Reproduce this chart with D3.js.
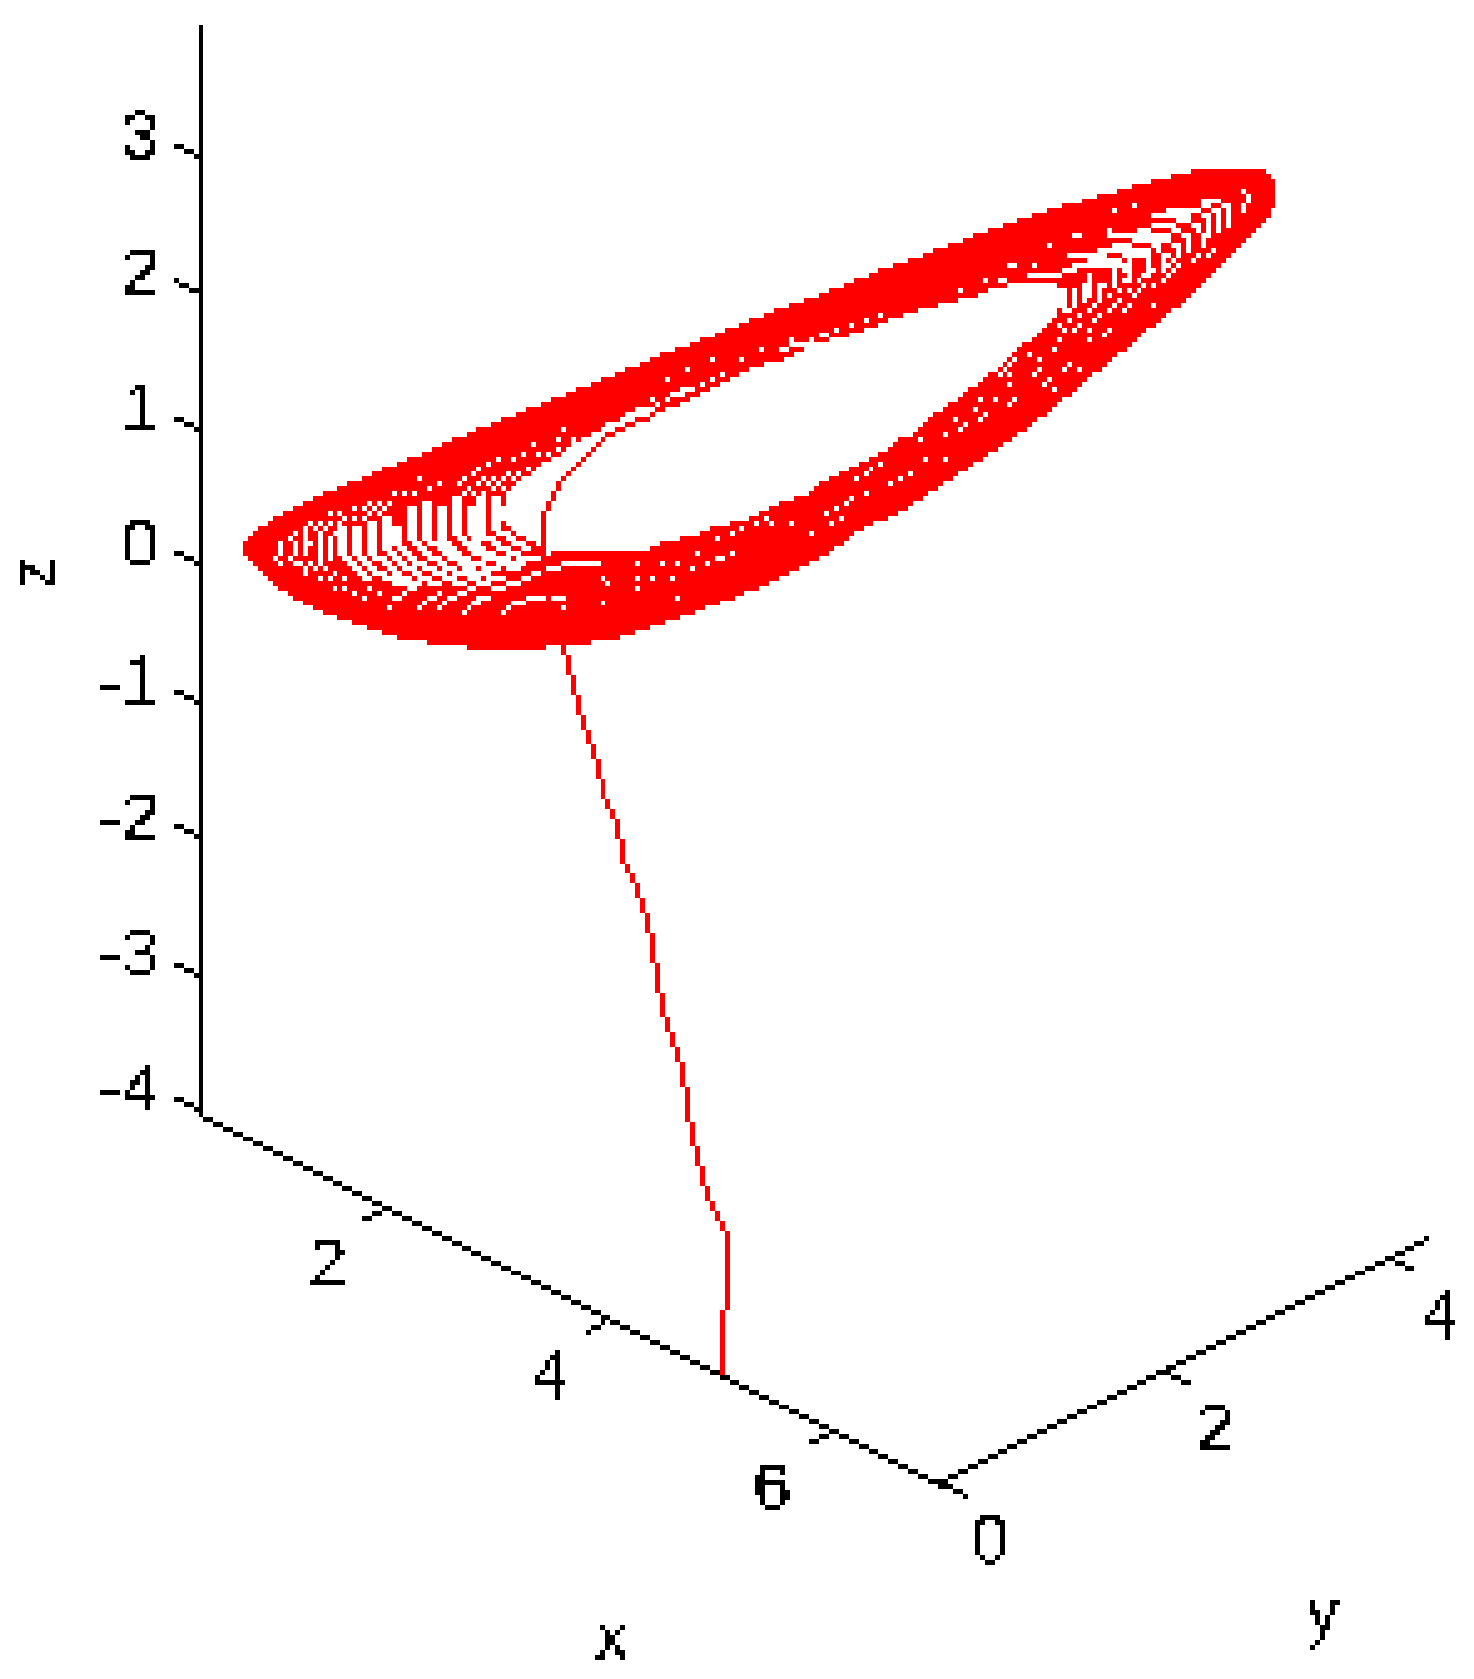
<!DOCTYPE html>
<html>
<head>
<meta charset="utf-8">
<style>
  html, body { margin: 0; padding: 0; background: #fff; }
  svg { display: block; }
  text { font-family: "Liberation Sans", sans-serif; font-size: 68px; fill: #000; }
</style>
<script src="https://cdn.jsdelivr.net/npm/d3@7"></script>
</head>
<body>
<svg id="chart" width="1474" height="1679"></svg>
<script>
var xTicks = [2, 4, 6];
var yTicks = [0, 2, 4];
var zTicks = [-4, -3, -2, -1, 0, 1, 2, 3];

// axis extents
var xLimits = [0.315, 6.99];
var yLimits = [0, 4.33];
var zLimits = [-4, 3.955];

// every curve below is read as [x, z]: x straight down on the x ticks, z straight across on the z ticks
var tail = [[3.595,-0.607],[3.613,-0.761],[3.712,-1.04],[3.793,-1.275],[3.883,-1.473],[3.955,-1.708],[4.063,-1.863],[4.135,-2.142],
  [4.243,-2.377],[4.342,-2.612],[4.387,-2.81],[4.423,-3.045],[4.495,-3.28],[4.559,-3.479],[4.631,-3.714],[4.694,-3.949],
  [4.757,-4.22],[4.82,-4.456],[4.874,-4.654],[5.018,-4.852],[5.054,-4.933],[5.054,-5.403],[5.018,-5.484],[5.018,-5.939]];

// outside edge of the band
var outerEdge = [[.697,.138],[.787,.248],[.922,.321],[1.102,.395],[1.282,.468],[1.462,.542],[1.688,.615],[1.898,.688],[2.123,.762],
  [2.348,.835],[2.529,.909],[2.754,.982],[2.979,1.056],[4.09,1.415],[4.495,1.557],[4.856,1.668],[5.3,1.815],[5.525,1.888],[5.793,1.962],
  [6.012,2.03],[6.237,2.104],[6.462,2.177],[6.733,2.25],[6.958,2.324],[7.228,2.397],[7.333,2.439],[7.453,2.471],[7.708,2.542],[7.979,2.615],
  [8.294,2.689],[8.609,2.762],[8.925,2.836],[9.105,2.872],[9.33,2.909],[9.901,2.909],[9.991,2.836],[9.991,2.659],[9.901,2.512],[9.72,2.365],
  [9.54,2.218],[9.33,2.072],[9.15,1.925],[8.925,1.778],[8.654,1.594],[8.429,1.447],[8.159,1.264],[7.979,1.146],[7.718,.982],[7.447,.835],
  [7.177,.688],[6.913,.541],[6.643,.394],[6.417,.321],[6.237,.247],[6.057,.137],[5.742,-.01],[5.381,-.157],[5.081,-.25],[4.27,-.487],
  [4,-.548],[3.73,-.575],[3.324,-.615],[2.799,-.615],[2.393,-.575],[2.168,-.548],[1.853,-.475],[1.583,-.401],[1.357,-.328],[1.177,-.254],
  [1.042,-.181],[.922,-.107],[.817,-.022],[.697,.076]];

// the hole in the middle of the band
var innerEdge = [[3.459,.101],[4.315,.101],[4.495,.174],[4.676,.211],[4.856,.247],[4.946,.284],[5.171,.321],[5.396,.394],[5.576,.468],
  [5.832,.541],[5.922,.615],[6.192,.725],[6.462,.835],[6.553,.909],[6.778,.982],[6.823,1.056],[7.093,1.202],[7.273,1.313],[7.498,1.447],
  [7.634,1.557],[7.859,1.704],[7.934,1.778],[8.024,1.851],[8.069,1.9],[8.069,2.035],[7.979,2.072],[7.588,2.072],[7.573,2.035],[7.393,2.035],
  [7.393,1.998],[7.177,1.961],[7.048,1.925],[6.823,1.888],[6.688,1.851],[6.553,1.815],[6.327,1.741],[6.057,1.668],[5.832,1.631],[5.613,1.521],
  [5.297,1.447],[5.12,1.374],[4.94,1.3],[4.763,1.227],[4.54,1.153],[4.27,1.117],[4,1.044],[3.82,.97],[3.685,.909],[3.55,.811],[3.384,.762],
  [3.294,.664],[3.159,.615],[3.069,.505],[3.024,.358],[3.069,.321],[3.204,.211],[3.294,.174],[3.414,.137]];

// thin strand crossing the hole
var strand = [[3.399,.101],[3.399,.346],[3.444,.456],[3.49,.542],[3.535,.603],[3.625,.676],[3.715,.75],[3.805,.823],[3.895,.897],
  [3.985,.946],[4.075,.995],[4.165,1.044],[4.315,1.08],[4.405,1.117]];

// white stripes between the turns, left end of the band
var leftStripes = [
  [[1.583,.26],[1.583,.101],[1.673,.015],[1.808,-.083]],
  [[1.718,.284],[1.718,.076],[1.823,-.009],[1.958,-.083],[2.108,-.132]],
  [[1.853,.321],[1.853,.089],[1.958,.015],[2.078,-.058],[2.258,-.132]],
  [[1.973,.358],[1.973,.113],[2.078,.052],[2.228,-.046],[2.438,-.132]],
  [[2.078,.284],[2.078,.15],[2.168,.089],[2.318,-.009],[2.529,-.095],[2.619,-.132]],
  [[2.213,.407],[2.213,.186],[2.318,.101],[2.453,.027],[2.649,-.071],[2.859,-.132]],
  [[2.348,.468],[2.348,.186],[2.453,.113],[2.619,.027],[2.799,-.046],[2.979,-.095]],
  [[2.483,.431],[2.483,.186],[2.588,.101],[2.754,.027],[2.949,-.034]],
  [[2.588,.505],[2.588,.223],[2.708,.137],[2.889,.039],[3.129,-.022]],
  [[2.708,.407],[2.708,.248],[2.829,.137],[3.009,.064],[3.189,.027]],
  [[2.829,.493],[2.829,.248],[2.934,.162],[3.099,.089],[3.249,.064]],
  [[2.949,.48],[2.949,.284],[3.069,.186],[3.219,.113]]
];

// white stripes, right end of the band
var rightStripes = [
  [[9.015,2.598],[9.195,2.598],[9.375,2.635],[9.48,2.598],[9.48,2.476]],
  [[9.33,2.671],[9.45,2.671],[9.57,2.635],[9.57,2.512]],
  [[8.88,2.561],[9.135,2.561],[9.315,2.598],[9.405,2.561],[9.405,2.439]],
  [[8.744,2.463],[8.925,2.5],[9.195,2.525],[9.285,2.488],[9.33,2.365]],
  [[8.519,2.414],[8.744,2.414],[8.925,2.439],[9.105,2.476],[9.21,2.439],[9.21,2.329]],
  [[8.429,2.316],[8.624,2.353],[8.774,2.39],[8.985,2.402],[9.105,2.365],[9.135,2.267]],
  [[8.12,2.272],[8.414,2.272],[8.564,2.316],[8.744,2.316],[8.925,2.341],[8.97,2.218]],
  [[8.204,2.206],[8.384,2.243],[8.534,2.243],[8.684,2.28],[8.835,2.292],[8.865,2.133]],
  [[7.798,2.125],[7.979,2.125],[8.144,2.165],[8.294,2.206],[8.489,2.206],[8.624,2.206],[8.654,2.096]],
  [[8.099,2.023],[8.099,1.9]],
  [[8.189,2.023],[8.189,1.925]],
  [[8.264,2.072],[8.264,1.949]],
  [[8.339,2.145],[8.339,1.974]],
  [[8.414,2.072],[8.414,1.998]],
  [[8.534,2.243],[8.534,2.072]],
  [[8.684,2.292],[8.684,2.084]]
];

// short one-pixel white dashes
var dashes = [
  [[1.027,.174],[1.027,.076]],[[1.162,.174],[1.162,.076]],[[1.252,.199],[1.252,.088]],[[1.387,.199],[1.387,.04]],[[1.478,.199],[1.478,.04]],
  [[3.565,.01],[3.91,.01]],[[3.429,-.027],[3.549,-.027]],[[3.249,.047],[3.369,.047]],[[3.069,-.027],[3.189,-.027]],
  [[3.294,-.063],[3.369,-.063]],[[3.204,-.1],[3.279,-.1]],[[3.069,-.137],[3.189,-.137]],[[2.934,-.173],[3.054,-.173]],
  [[2.799,-.247],[2.889,-.247]],[[3.249,-.247],[3.414,-.247]],[[3.474,-.247],[3.594,-.247]],[[3.114,-.284],[3.234,-.284]],
  [[2.679,-.352],[2.769,-.279],[2.889,-.242]],[[3.039,-.352],[3.114,-.279]],[[2.273,-.315],[2.378,-.242],[2.468,-.205]],
  [[2.453,-.315],[2.558,-.242],[2.649,-.205],[2.769,-.169]],[[2.048,-.242],[2.138,-.193],[2.288,-.132]],
  [[8.174,2.414],[8.249,2.414]],[[7.618,2.199],[7.663,2.199]],[[7.498,2.089],[7.573,2.089]],[[9.735,2.72],[9.735,2.659]],[[9.705,2.647],[9.705,2.586]],
  [[5.883,1.687],[5.967,1.687]],[[5.658,1.614],[5.748,1.614]],[[5.525,1.577],[5.613,1.577]],[[4.631,1.288],[4.763,1.288]],[[4.585,1.251],[4.661,1.251]],
  [[4.27,1.141],[4.405,1.141]],[[4.18,1.105],[4.27,1.105]],[[4.946,.047],[5.027,.047]]
];

// single white pixels
var specksLeft = [[1.703,.412],[1.793,.412],[1.838,.449],[1.928,.449],[2.018,.449],[1.883,.412],[1.973,.412],[1.838,.375],[1.928,.375],[1.478,.375],
  [1.568,.375],[1.703,.338],[1.613,.338],[1.793,.338],[1.297,.302],[1.387,.302],[1.478,.302],[1.252,.265],[1.342,.265],[1.432,.265],[1.568,.302],
  [1.162,.228],[1.117,.191],[1.252,.228],[1.387,.228],[1.297,.155],[1.522,.228],[2.063,.522],[2.153,.522],[2.243,.522],[2.378,.559],[2.288,.632],
  [2.462,.595],[2.679,.632],[2.769,.669],[2.814,.706],[2.904,.742],[2.994,.779],[3.129,.779],[3.219,.816],[3.309,.889],[3.354,.816],[3.444,.816],
  [3.534,.852],[3.534,.926],[3.67,.926],[3.579,.999],[3.264,.706],[3.084,.669],[3.174,.669],[2.859,.632],[2.949,.632],[3.039,.632],[2.814,.595],
  [2.904,.595],[2.994,.595],[3.129,.632],[2.634,.595],[2.724,.559],[2.679,.522],[2.769,.522],[2.859,.522],[2.949,.559],[3.039,.559],[.982,.052],
  [1.027,.01],[1.117,.052],[1.162,.01],[1.207,.01],[1.252,-.027],[1.297,.01],[1.387,.01],[1.342,-.027],[1.432,-.027],[1.252,-.063],[1.387,-.1],
  [1.478,-.1],[1.522,-.063],[1.613,-.1],[1.522,-.173],[1.613,-.173],[1.703,-.21],[1.784,-.247],[1.832,-.173],[1.922,-.21],[2.012,-.32],[2.282,-.32],
  [2.462,-.32],[3.579,-.32],[3.934,-.284],[3.934,-.1],[3.979,-.137],[3.444,.084]];

var specksRight = [[8.534,2.598],[8.714,2.635],[8.489,2.451],[7.958,2.341],[7.822,2.199],[7.378,2.089],[9.705,2.745],[9.435,2.309],[9.39,2.272],[9.3,2.272],
  [9.255,2.236],[9.03,2.272],[9.12,2.272],[9.075,2.236],[9.03,2.199],[9.12,2.199],[9.075,2.162],[8.985,2.162],[9.03,2.125],[8.985,2.089],[8.895,2.052],
  [8.895,1.905],[8.895,2.162],[8.85,2.125],[8.804,2.125],[8.759,2.089],[8.804,2.052],[8.624,2.089],[8.534,2.052],[8.444,2.052],[8.489,1.978],[8.579,2.015],
  [8.669,2.015],[8.759,2.015],[8.714,1.978],[8.669,1.905],[8.534,1.905],[8.489,1.868],[8.579,1.942],[8.624,1.868],[8.354,1.905],[8.399,1.942],[8.309,1.868],
  [8.405,1.832],[8.363,1.795],[8.135,1.868],[8.09,1.868],[8.225,1.832],[8.135,1.795],[8.045,1.758],[8.225,1.758],[8.09,1.721],[8.18,1.721],[8.315,1.721],
  [8.495,1.721],[8.45,1.685],[8.315,1.648],[8.045,1.648],[7.999,1.574],[7.777,1.538],[7.868,1.501],[7.642,1.501],[7.597,1.464],[7.552,1.428],[7.507,1.391],
  [7.597,1.391],[7.868,1.428],[7.822,1.391],[8.135,1.464],[8.09,1.428],[8.225,1.428],[7.958,1.354],[7.913,1.317],[7.597,1.317],[8.003,1.281],[7.642,1.21],
  [7.597,1.173],[7.468,1.21],[7.333,1.21]];

var specksMiddle = [[7.153,2.015],[6.438,1.832],[6.303,1.795],[6.168,1.758],[6.036,1.724],[5.637,1.651],[5.811,1.651],[5.366,1.577],[5.186,1.504],[4.919,1.504],
  [4.697,1.43],[5.006,1.393],[4.919,1.357],[4.516,1.357],[4.829,1.32],[4.381,1.215],[4.516,1.215],[4.426,1.178],[4.156,1.068],[4.111,1.031],[7.288,1.141],
  [7.378,1.105],[7.333,1.068],[7.108,1.068],[7.198,1.031],[7.153,.994],[7.018,.958],[6.799,.921],[6.844,.776],[7.021,.776],[6.438,.74],[6.348,.703],[6.303,.669],
  [6.216,.632],[6.706,.669],[6.616,.632],[6.526,.595],[6.303,.522],[6.171,.485],[6.126,.448],[6.036,.412],[5.946,.375],[6.081,.338],[5.991,.301],[5.411,.338],
  [5.456,.301],[5.321,.301],[5.634,.301],[5.186,.265],[5.096,.228],[4.961,.194],[5.814,.228],[4.787,.083],[5.099,.083],[4.246,.01],[4.471,.01],[4.607,.01],
  [4.874,.01],[4.739,-.027],[4.246,-.1],[4.381,-.1],[4.561,-.1],[4.246,-.174],[4.607,-.242]];

var width = 1474, height = 1679;
var cell = width / 297; // the picture is an enlarged low-res bitmap

var svg = d3.select("#chart");

// horizontal and vertical position along each axis
var xH = d3.scaleLinear().domain([2, 6]).range([388, 832]);
var xV = d3.scaleLinear().domain([2, 6]).range([1207, 1431]);
var yH = d3.scaleLinear().domain([0, 4]).range([942, 1392]);
var yV = d3.scaleLinear().domain([0, 4]).range([1483, 1258]);
var zV = d3.scaleLinear().domain([-4, 3]).range([1110, 157]);

function toPixels(curve) {
  return curve.map(function(d) { return [xH(d[0]), zV(d[1])]; });
}

// walks a polyline over the coarse grid, one cell per step
function rasterize(points, mark) {
  for (var i = 0; i < points.length - 1; i++) {
    var c0 = Math.floor(points[i][0] / cell), r0 = Math.floor(points[i][1] / cell);
    var c1 = Math.floor(points[i+1][0] / cell), r1 = Math.floor(points[i+1][1] / cell);
    var n = Math.max(Math.abs(c1 - c0), Math.abs(r1 - r0), 1);
    for (var k = 0; k <= n; k++) {
      mark(Math.round(c0 + (c1 - c0) * k / n), Math.round(r0 + (r1 - r0) * k / n));
    }
  }
}

function addTo(set) {
  return function(c, r) { set.add(c + "," + r); };
}

// merges cells into row runs so one path can draw them all
function cellsPath(set) {
  var rows = d3.rollup(Array.from(set).map(function(k) { return k.split(",").map(Number); }),
    function(v) { return v.map(function(d) { return d[0]; }).sort(d3.ascending); },
    function(d) { return d[1]; });
  var out = "";
  rows.forEach(function(cols, r) {
    var start = cols[0];
    for (var i = 0; i < cols.length; i++) {
      if (i == cols.length - 1 || cols[i+1] != cols[i] + 1) {
        out += "M" + (start * cell) + " " + (r * cell) + "H" + ((cols[i] + 1) * cell) + "V" + ((r + 1) * cell) + "H" + (start * cell) + "Z";
        start = cols[i+1];
      }
    }
  });
  return out;
}

// band: everything between the two edges
var outerPx = toPixels(outerEdge), innerPx = toPixels(innerEdge);
var band = new Set();
var bx = d3.extent(outerPx, function(d) { return d[0]; }), by = d3.extent(outerPx, function(d) { return d[1]; });
for (var c = Math.floor(bx[0] / cell); c <= bx[1] / cell; c++) {
  for (var r = Math.floor(by[0] / cell); r <= by[1] / cell; r++) {
    var centre = [(c + 0.5) * cell, (r + 0.5) * cell];
    if (d3.polygonContains(outerPx, centre) && !d3.polygonContains(innerPx, centre)) band.add(c + "," + r);
  }
}

// left stripes are two cells across, the rest one
leftStripes.forEach(function(s) {
  rasterize(toPixels(s), function(c, r) { band.delete(c + "," + r); band.delete((c + 1) + "," + r); });
});
rightStripes.concat(dashes).forEach(function(s) {
  rasterize(toPixels(s), function(c, r) { band.delete(c + "," + r); });
});
specksLeft.concat(specksRight, specksMiddle).forEach(function(d) {
  var p = toPixels([d])[0];
  band.delete(Math.floor(p[0] / cell) + "," + Math.floor(p[1] / cell));
});

rasterize(toPixels(strand), addTo(band));
var tailCells = new Set();
rasterize(toPixels(tail), addTo(tailCells));

// axes and ticks
var axisCells = new Set();
var mark = addTo(axisCells);
rasterize([[xH(xLimits[0]), zV(zLimits[0])], [xH(xLimits[0]), zV(zLimits[1])]], mark);
rasterize([[xH(xLimits[0]), xV(xLimits[0])], [xH(xLimits[1]), xV(xLimits[1])]], mark);
rasterize([[yH(yLimits[0]), yV(yLimits[0])], [yH(yLimits[1]), yV(yLimits[1])]], mark);
zTicks.forEach(function(t) {
  rasterize([[xH(xLimits[0]), zV(t)], [xH(xLimits[0]) - 26, zV(t) - 11]], mark);
});
xTicks.forEach(function(t) {
  rasterize([[xH(t), xV(t)], [xH(t) - 22, xV(t) + 13]], mark);
});
yTicks.forEach(function(t) {
  rasterize([[yH(t), yV(t)], [yH(t) + 22, yV(t) + 12]], mark);
});

svg.append("path").attr("class", "axes").attr("d", cellsPath(axisCells))
  .attr("fill", "#000").attr("shape-rendering", "crispEdges");
svg.append("path").attr("class", "attractor").attr("d", cellsPath(band))
  .attr("fill", "#f00").attr("shape-rendering", "crispEdges");
svg.append("path").attr("class", "tail").attr("d", cellsPath(tailCells))
  .attr("fill", "#f00").attr("shape-rendering", "crispEdges");

// blocky look for the real text: sample a 5px grid then grow each sample
var blocky = svg.append("defs").append("filter").attr("id", "blocky")
  .attr("filterUnits", "userSpaceOnUse")
  .attr("x", 0).attr("y", 0).attr("width", width).attr("height", height);
blocky.append("feFlood").attr("x", 2).attr("y", 2).attr("width", 1).attr("height", 1);
blocky.append("feComposite").attr("width", 5).attr("height", 5);
blocky.append("feTile").attr("result", "grid");
blocky.append("feComposite").attr("in", "SourceGraphic").attr("in2", "grid").attr("operator", "in");
blocky.append("feMorphology").attr("operator", "dilate").attr("radius", 2);
blocky.append("feComponentTransfer").append("feFuncA").attr("type", "discrete").attr("tableValues", "0 1");

var labels = svg.append("g").attr("class", "labels").attr("filter", "url(#blocky)");

labels.selectAll(".zlab").data(zTicks).enter().append("text")
  .attr("class", "zlab")
  .attr("x", 159)
  .attr("y", function(d) { return zV(d) + 2; })
  .attr("text-anchor", "end")
  .text(function(d) { return d; });

labels.selectAll(".xlab").data(xTicks).enter().append("text")
  .attr("class", "xlab")
  .attr("x", function(d) { return xH(d) - 60; })
  .attr("y", function(d) { return xV(d) + 79; })
  .attr("text-anchor", "middle")
  .text(function(d) { return d; });

labels.selectAll(".ylab").data(yTicks).enter().append("text")
  .attr("class", "ylab")
  .attr("x", function(d) { return yH(d) + 48; })
  .attr("y", function(d) { return yV(d) + 80; })
  .attr("text-anchor", "middle")
  .text(function(d) { return d; });

labels.append("text").attr("x", 612).attr("y", 1659).attr("text-anchor", "middle").text("x");
labels.append("text").attr("x", 1323).attr("y", 1634).attr("text-anchor", "middle").text("y");
labels.append("text").attr("transform", "translate(55,573) rotate(-90)").attr("text-anchor", "middle").text("z");
</script>
</body>
</html>
